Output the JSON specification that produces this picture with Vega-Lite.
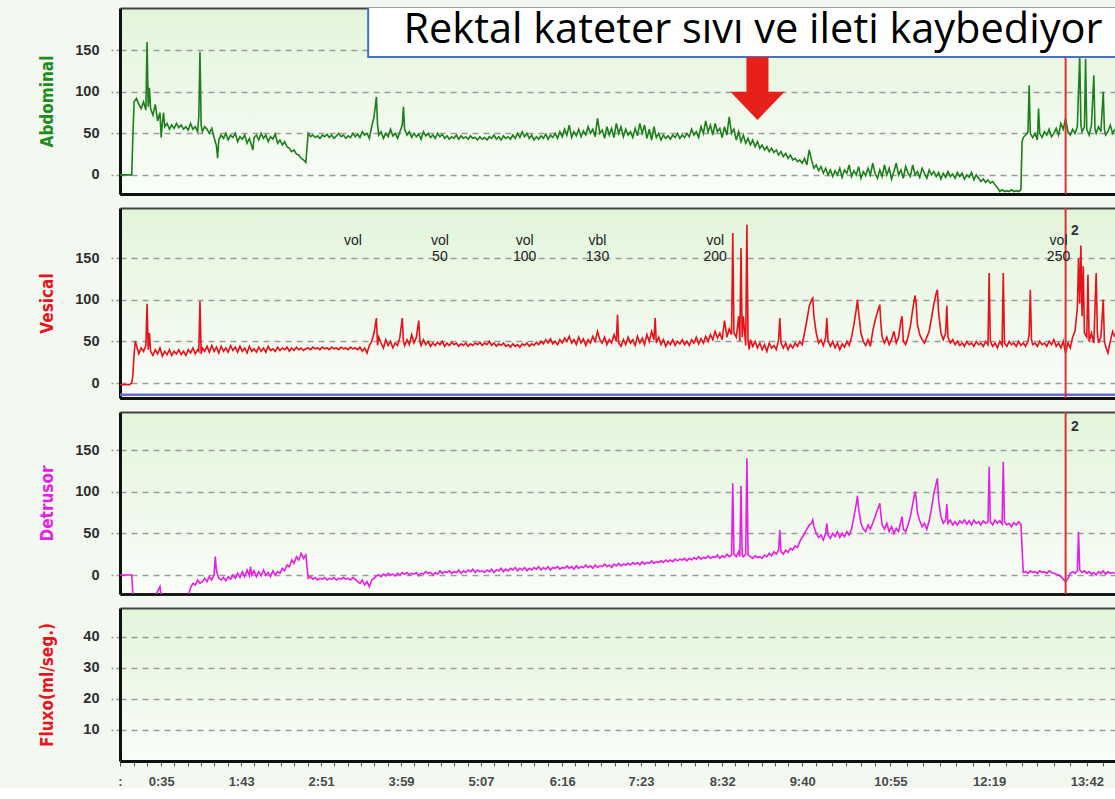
{
"$schema":"https://vega.github.io/schema/vega-lite/v6.json",
"padding":{"left":38,"top":8,"right":0,"bottom":0},
"background":"#f3f9f1",
"spacing":14,
"bounds":"flush",
"config":{
"view":{"stroke":null,"fill":{"gradient":"linear","x1":0,"y1":0,"x2":0,"y2":1,"stops":[{"offset":0,"color":"#e2f5da"},{"offset":1,"color":"#fafdf9"}]}},
"axisY":{"grid":true,"gridColor":"#9c9c9c","gridDash":[6,5],"gridWidth":1.3,"domainColor":"#111","domainWidth":3,"tickColor":"#9c9c9c","tickDash":[4,3],"tickSize":9,"tickWidth":1.3,"labelFont":"Liberation Sans","labelFontSize":14.5,"labelFontWeight":"bold","labelColor":"#2e2e2e","labelPadding":12,"minExtent":44,"maxExtent":44,"titleFont":"Liberation Sans Narrow, DejaVu Sans Condensed, Liberation Sans","titleFontSize":17,"titleFontWeight":"bold","titlePadding":20}
},
"datasets":{
"abd":[{"t":0,"v":0},{"t":8,"v":0},{"t":10,"v":0},{"t":11,"v":50},{"t":12,"v":88},{"t":14,"v":92},{"t":16,"v":85},{"t":18,"v":80},{"t":20,"v":88},{"t":22,"v":78},{"t":23,"v":160},{"t":24,"v":82},{"t":25,"v":105},{"t":26,"v":80},{"t":28,"v":72},{"t":30,"v":85},{"t":32,"v":65},{"t":34,"v":75},{"t":35,"v":45},{"t":36,"v":62},{"t":37,"v":75},{"t":38,"v":58},{"t":40,"v":62},{"t":42,"v":55},{"t":44,"v":60},{"t":46,"v":56},{"t":48,"v":62},{"t":50,"v":57},{"t":52,"v":60},{"t":54,"v":55},{"t":56,"v":58},{"t":58,"v":54},{"t":60,"v":62},{"t":62,"v":55},{"t":64,"v":58},{"t":66,"v":52},{"t":67,"v":70},{"t":68,"v":148},{"t":69,"v":60},{"t":70,"v":52},{"t":72,"v":58},{"t":74,"v":55},{"t":76,"v":50},{"t":78,"v":56},{"t":80,"v":45},{"t":82,"v":35},{"t":83,"v":20},{"t":84,"v":42},{"t":86,"v":48},{"t":88,"v":44},{"t":90,"v":50},{"t":92,"v":42},{"t":94,"v":48},{"t":96,"v":45},{"t":98,"v":50},{"t":100,"v":40},{"t":102,"v":46},{"t":104,"v":43},{"t":106,"v":48},{"t":108,"v":38},{"t":110,"v":44},{"t":112,"v":35},{"t":113,"v":30},{"t":114,"v":45},{"t":116,"v":48},{"t":118,"v":42},{"t":120,"v":50},{"t":122,"v":44},{"t":124,"v":48},{"t":126,"v":40},{"t":128,"v":46},{"t":130,"v":43},{"t":132,"v":49},{"t":134,"v":38},{"t":136,"v":42},{"t":138,"v":36},{"t":140,"v":40},{"t":142,"v":34},{"t":144,"v":32},{"t":146,"v":28},{"t":148,"v":30},{"t":150,"v":25},{"t":152,"v":24},{"t":154,"v":20},{"t":156,"v":18},{"t":158,"v":15},{"t":160,"v":50},{"t":162,"v":46},{"t":164,"v":48},{"t":166,"v":45},{"t":168,"v":47},{"t":170,"v":44},{"t":172,"v":48},{"t":174,"v":46},{"t":176,"v":49},{"t":178,"v":45},{"t":180,"v":48},{"t":182,"v":44},{"t":184,"v":47},{"t":186,"v":50},{"t":188,"v":46},{"t":190,"v":48},{"t":192,"v":44},{"t":194,"v":47},{"t":196,"v":45},{"t":198,"v":50},{"t":200,"v":46},{"t":202,"v":49},{"t":204,"v":45},{"t":206,"v":52},{"t":208,"v":48},{"t":210,"v":50},{"t":212,"v":44},{"t":214,"v":58},{"t":216,"v":70},{"t":218,"v":94},{"t":219,"v":60},{"t":220,"v":48},{"t":222,"v":52},{"t":224,"v":44},{"t":226,"v":50},{"t":228,"v":46},{"t":230,"v":55},{"t":232,"v":47},{"t":234,"v":50},{"t":236,"v":44},{"t":238,"v":52},{"t":240,"v":60},{"t":241,"v":82},{"t":242,"v":55},{"t":244,"v":48},{"t":246,"v":52},{"t":248,"v":45},{"t":250,"v":50},{"t":252,"v":46},{"t":254,"v":49},{"t":256,"v":43},{"t":258,"v":52},{"t":260,"v":47},{"t":262,"v":50},{"t":264,"v":45},{"t":266,"v":48},{"t":268,"v":44},{"t":270,"v":50},{"t":272,"v":46},{"t":274,"v":49},{"t":276,"v":44},{"t":278,"v":47},{"t":280,"v":43},{"t":282,"v":46},{"t":284,"v":44},{"t":286,"v":48},{"t":288,"v":43},{"t":290,"v":47},{"t":292,"v":44},{"t":294,"v":46},{"t":296,"v":43},{"t":298,"v":47},{"t":300,"v":44},{"t":302,"v":45},{"t":304,"v":42},{"t":306,"v":46},{"t":308,"v":43},{"t":310,"v":45},{"t":312,"v":42},{"t":314,"v":46},{"t":316,"v":44},{"t":318,"v":48},{"t":320,"v":43},{"t":322,"v":46},{"t":324,"v":42},{"t":326,"v":47},{"t":328,"v":44},{"t":330,"v":46},{"t":332,"v":43},{"t":334,"v":48},{"t":336,"v":44},{"t":338,"v":50},{"t":340,"v":45},{"t":342,"v":52},{"t":344,"v":46},{"t":346,"v":50},{"t":348,"v":44},{"t":350,"v":48},{"t":352,"v":42},{"t":354,"v":46},{"t":356,"v":43},{"t":358,"v":47},{"t":360,"v":44},{"t":362,"v":49},{"t":364,"v":43},{"t":366,"v":48},{"t":368,"v":45},{"t":370,"v":50},{"t":372,"v":44},{"t":374,"v":52},{"t":376,"v":46},{"t":378,"v":55},{"t":380,"v":48},{"t":382,"v":60},{"t":384,"v":45},{"t":386,"v":52},{"t":388,"v":47},{"t":390,"v":55},{"t":392,"v":46},{"t":394,"v":53},{"t":396,"v":48},{"t":398,"v":58},{"t":400,"v":50},{"t":402,"v":55},{"t":404,"v":46},{"t":406,"v":68},{"t":408,"v":50},{"t":410,"v":54},{"t":412,"v":44},{"t":414,"v":58},{"t":416,"v":48},{"t":418,"v":56},{"t":420,"v":45},{"t":422,"v":62},{"t":424,"v":50},{"t":426,"v":58},{"t":428,"v":46},{"t":430,"v":55},{"t":432,"v":48},{"t":434,"v":52},{"t":436,"v":45},{"t":438,"v":56},{"t":440,"v":47},{"t":442,"v":62},{"t":444,"v":50},{"t":446,"v":60},{"t":448,"v":44},{"t":450,"v":55},{"t":452,"v":42},{"t":454,"v":58},{"t":456,"v":45},{"t":458,"v":50},{"t":460,"v":42},{"t":462,"v":48},{"t":464,"v":44},{"t":466,"v":47},{"t":468,"v":43},{"t":470,"v":48},{"t":472,"v":45},{"t":474,"v":50},{"t":476,"v":44},{"t":478,"v":48},{"t":480,"v":45},{"t":482,"v":50},{"t":484,"v":46},{"t":486,"v":55},{"t":488,"v":48},{"t":490,"v":52},{"t":492,"v":45},{"t":494,"v":58},{"t":496,"v":50},{"t":498,"v":65},{"t":500,"v":52},{"t":502,"v":60},{"t":504,"v":48},{"t":506,"v":62},{"t":508,"v":52},{"t":510,"v":56},{"t":512,"v":45},{"t":514,"v":58},{"t":516,"v":48},{"t":518,"v":70},{"t":520,"v":50},{"t":522,"v":55},{"t":524,"v":42},{"t":526,"v":52},{"t":528,"v":40},{"t":530,"v":48},{"t":532,"v":38},{"t":534,"v":44},{"t":536,"v":36},{"t":538,"v":42},{"t":540,"v":34},{"t":542,"v":40},{"t":544,"v":32},{"t":546,"v":36},{"t":548,"v":30},{"t":550,"v":34},{"t":552,"v":28},{"t":554,"v":32},{"t":556,"v":27},{"t":558,"v":30},{"t":560,"v":24},{"t":562,"v":28},{"t":564,"v":22},{"t":566,"v":26},{"t":568,"v":20},{"t":570,"v":24},{"t":572,"v":18},{"t":574,"v":20},{"t":576,"v":16},{"t":578,"v":18},{"t":580,"v":14},{"t":582,"v":20},{"t":584,"v":12},{"t":586,"v":30},{"t":588,"v":18},{"t":590,"v":8},{"t":592,"v":12},{"t":594,"v":5},{"t":596,"v":10},{"t":598,"v":2},{"t":600,"v":8},{"t":602,"v":0},{"t":604,"v":6},{"t":606,"v":-2},{"t":608,"v":5},{"t":610,"v":0},{"t":612,"v":8},{"t":614,"v":-3},{"t":616,"v":6},{"t":618,"v":2},{"t":620,"v":12},{"t":622,"v":-2},{"t":624,"v":5},{"t":626,"v":0},{"t":628,"v":10},{"t":630,"v":-4},{"t":632,"v":4},{"t":634,"v":-1},{"t":636,"v":8},{"t":638,"v":0},{"t":640,"v":14},{"t":642,"v":2},{"t":644,"v":-4},{"t":646,"v":6},{"t":648,"v":-2},{"t":650,"v":12},{"t":652,"v":0},{"t":654,"v":8},{"t":656,"v":-5},{"t":658,"v":4},{"t":660,"v":14},{"t":662,"v":0},{"t":664,"v":6},{"t":666,"v":-4},{"t":668,"v":10},{"t":670,"v":2},{"t":672,"v":-2},{"t":674,"v":12},{"t":676,"v":0},{"t":678,"v":4},{"t":680,"v":-3},{"t":682,"v":8},{"t":684,"v":2},{"t":686,"v":-4},{"t":688,"v":6},{"t":690,"v":0},{"t":692,"v":4},{"t":694,"v":-2},{"t":696,"v":3},{"t":698,"v":-5},{"t":700,"v":2},{"t":702,"v":-3},{"t":704,"v":4},{"t":706,"v":-2},{"t":708,"v":1},{"t":710,"v":-4},{"t":712,"v":3},{"t":714,"v":-2},{"t":716,"v":2},{"t":718,"v":-5},{"t":720,"v":0},{"t":722,"v":-3},{"t":724,"v":3},{"t":726,"v":-6},{"t":728,"v":0},{"t":730,"v":-4},{"t":732,"v":-8},{"t":734,"v":-5},{"t":736,"v":-9},{"t":738,"v":-6},{"t":740,"v":-10},{"t":742,"v":-8},{"t":744,"v":-12},{"t":746,"v":-15},{"t":748,"v":-20},{"t":750,"v":-18},{"t":752,"v":-20},{"t":754,"v":-19},{"t":756,"v":-20},{"t":758,"v":-18},{"t":760,"v":-20},{"t":762,"v":-19},{"t":764,"v":-20},{"t":766,"v":-18},{"t":767,"v":40},{"t":768,"v":45},{"t":770,"v":48},{"t":772,"v":52},{"t":773,"v":108},{"t":774,"v":50},{"t":776,"v":45},{"t":778,"v":50},{"t":780,"v":42},{"t":781,"v":80},{"t":782,"v":50},{"t":784,"v":45},{"t":786,"v":52},{"t":788,"v":48},{"t":790,"v":55},{"t":792,"v":46},{"t":794,"v":50},{"t":796,"v":56},{"t":798,"v":48},{"t":800,"v":62},{"t":802,"v":55},{"t":804,"v":68},{"t":806,"v":52},{"t":808,"v":48},{"t":810,"v":55},{"t":812,"v":50},{"t":814,"v":58},{"t":816,"v":145},{"t":817,"v":60},{"t":818,"v":52},{"t":820,"v":58},{"t":821,"v":140},{"t":822,"v":55},{"t":824,"v":48},{"t":826,"v":60},{"t":828,"v":120},{"t":829,"v":55},{"t":830,"v":50},{"t":832,"v":58},{"t":834,"v":52},{"t":836,"v":100},{"t":837,"v":55},{"t":838,"v":48},{"t":840,"v":52},{"t":842,"v":60},{"t":844,"v":50},{"t":846,"v":55}],
"ves":[{"t":0,"v":-2},{"t":8,"v":-2},{"t":10,"v":0},{"t":11,"v":10},{"t":12,"v":35},{"t":13,"v":50},{"t":14,"v":45},{"t":16,"v":35},{"t":18,"v":42},{"t":20,"v":38},{"t":22,"v":45},{"t":23,"v":95},{"t":24,"v":40},{"t":25,"v":60},{"t":26,"v":38},{"t":28,"v":33},{"t":30,"v":40},{"t":32,"v":35},{"t":34,"v":42},{"t":36,"v":32},{"t":38,"v":38},{"t":40,"v":34},{"t":42,"v":40},{"t":44,"v":33},{"t":46,"v":38},{"t":48,"v":35},{"t":50,"v":40},{"t":52,"v":34},{"t":54,"v":38},{"t":56,"v":33},{"t":58,"v":40},{"t":60,"v":36},{"t":62,"v":42},{"t":64,"v":35},{"t":66,"v":40},{"t":67,"v":38},{"t":68,"v":98},{"t":69,"v":35},{"t":70,"v":42},{"t":72,"v":38},{"t":74,"v":44},{"t":76,"v":37},{"t":78,"v":45},{"t":80,"v":38},{"t":82,"v":43},{"t":84,"v":36},{"t":86,"v":44},{"t":88,"v":38},{"t":90,"v":42},{"t":92,"v":37},{"t":94,"v":45},{"t":96,"v":39},{"t":98,"v":43},{"t":100,"v":37},{"t":102,"v":44},{"t":104,"v":38},{"t":106,"v":42},{"t":108,"v":36},{"t":110,"v":44},{"t":112,"v":38},{"t":114,"v":41},{"t":116,"v":37},{"t":118,"v":43},{"t":120,"v":38},{"t":122,"v":42},{"t":124,"v":37},{"t":126,"v":44},{"t":128,"v":39},{"t":130,"v":41},{"t":132,"v":38},{"t":134,"v":43},{"t":136,"v":39},{"t":138,"v":42},{"t":140,"v":40},{"t":142,"v":43},{"t":144,"v":38},{"t":146,"v":42},{"t":148,"v":39},{"t":150,"v":43},{"t":152,"v":40},{"t":154,"v":42},{"t":156,"v":39},{"t":158,"v":41},{"t":160,"v":42},{"t":162,"v":40},{"t":164,"v":43},{"t":166,"v":41},{"t":168,"v":42},{"t":170,"v":40},{"t":172,"v":43},{"t":174,"v":41},{"t":176,"v":42},{"t":178,"v":40},{"t":180,"v":43},{"t":182,"v":41},{"t":184,"v":42},{"t":186,"v":40},{"t":188,"v":43},{"t":190,"v":41},{"t":192,"v":42},{"t":194,"v":40},{"t":196,"v":43},{"t":198,"v":41},{"t":200,"v":42},{"t":202,"v":40},{"t":204,"v":43},{"t":206,"v":38},{"t":208,"v":42},{"t":210,"v":36},{"t":212,"v":45},{"t":214,"v":50},{"t":216,"v":60},{"t":218,"v":78},{"t":219,"v":45},{"t":220,"v":55},{"t":222,"v":48},{"t":224,"v":42},{"t":226,"v":52},{"t":228,"v":45},{"t":230,"v":50},{"t":232,"v":42},{"t":234,"v":48},{"t":236,"v":45},{"t":238,"v":55},{"t":240,"v":78},{"t":241,"v":50},{"t":242,"v":45},{"t":244,"v":52},{"t":246,"v":46},{"t":248,"v":58},{"t":250,"v":48},{"t":252,"v":55},{"t":254,"v":75},{"t":255,"v":50},{"t":256,"v":45},{"t":258,"v":52},{"t":260,"v":46},{"t":262,"v":50},{"t":264,"v":44},{"t":266,"v":48},{"t":268,"v":45},{"t":270,"v":49},{"t":272,"v":46},{"t":274,"v":50},{"t":276,"v":44},{"t":278,"v":48},{"t":280,"v":45},{"t":282,"v":49},{"t":284,"v":46},{"t":286,"v":48},{"t":288,"v":44},{"t":290,"v":47},{"t":292,"v":45},{"t":294,"v":48},{"t":296,"v":44},{"t":298,"v":47},{"t":300,"v":45},{"t":302,"v":48},{"t":304,"v":46},{"t":306,"v":49},{"t":308,"v":45},{"t":310,"v":48},{"t":312,"v":46},{"t":314,"v":50},{"t":316,"v":45},{"t":318,"v":48},{"t":320,"v":44},{"t":322,"v":47},{"t":324,"v":45},{"t":326,"v":48},{"t":328,"v":44},{"t":330,"v":46},{"t":332,"v":43},{"t":334,"v":47},{"t":336,"v":44},{"t":338,"v":46},{"t":340,"v":43},{"t":342,"v":47},{"t":344,"v":45},{"t":346,"v":48},{"t":348,"v":44},{"t":350,"v":47},{"t":352,"v":45},{"t":354,"v":49},{"t":356,"v":46},{"t":358,"v":50},{"t":360,"v":47},{"t":362,"v":52},{"t":364,"v":48},{"t":366,"v":53},{"t":368,"v":47},{"t":370,"v":50},{"t":372,"v":46},{"t":374,"v":52},{"t":376,"v":48},{"t":378,"v":54},{"t":380,"v":50},{"t":382,"v":56},{"t":384,"v":48},{"t":386,"v":52},{"t":388,"v":46},{"t":390,"v":55},{"t":392,"v":48},{"t":394,"v":53},{"t":396,"v":45},{"t":398,"v":52},{"t":400,"v":48},{"t":402,"v":56},{"t":404,"v":50},{"t":406,"v":62},{"t":408,"v":52},{"t":410,"v":48},{"t":412,"v":55},{"t":414,"v":46},{"t":416,"v":52},{"t":418,"v":48},{"t":420,"v":58},{"t":422,"v":50},{"t":423,"v":82},{"t":424,"v":48},{"t":426,"v":44},{"t":428,"v":52},{"t":430,"v":46},{"t":432,"v":55},{"t":434,"v":48},{"t":436,"v":52},{"t":438,"v":45},{"t":440,"v":56},{"t":442,"v":48},{"t":444,"v":54},{"t":446,"v":46},{"t":448,"v":58},{"t":450,"v":50},{"t":452,"v":62},{"t":454,"v":52},{"t":455,"v":78},{"t":456,"v":48},{"t":458,"v":55},{"t":460,"v":46},{"t":462,"v":52},{"t":464,"v":44},{"t":466,"v":50},{"t":468,"v":46},{"t":470,"v":52},{"t":472,"v":45},{"t":474,"v":50},{"t":476,"v":47},{"t":478,"v":52},{"t":480,"v":46},{"t":482,"v":50},{"t":484,"v":45},{"t":486,"v":52},{"t":488,"v":48},{"t":490,"v":55},{"t":492,"v":47},{"t":494,"v":53},{"t":496,"v":48},{"t":498,"v":56},{"t":500,"v":50},{"t":502,"v":58},{"t":504,"v":52},{"t":506,"v":62},{"t":508,"v":54},{"t":510,"v":60},{"t":512,"v":52},{"t":514,"v":75},{"t":516,"v":55},{"t":518,"v":65},{"t":520,"v":58},{"t":521,"v":180},{"t":522,"v":60},{"t":524,"v":55},{"t":526,"v":80},{"t":527,"v":50},{"t":528,"v":162},{"t":529,"v":55},{"t":530,"v":80},{"t":532,"v":45},{"t":533,"v":190},{"t":534,"v":50},{"t":535,"v":40},{"t":536,"v":52},{"t":538,"v":44},{"t":540,"v":50},{"t":542,"v":42},{"t":544,"v":48},{"t":546,"v":40},{"t":548,"v":46},{"t":550,"v":38},{"t":552,"v":48},{"t":554,"v":42},{"t":556,"v":45},{"t":558,"v":40},{"t":560,"v":52},{"t":561,"v":78},{"t":562,"v":48},{"t":564,"v":42},{"t":566,"v":48},{"t":568,"v":40},{"t":570,"v":46},{"t":572,"v":42},{"t":574,"v":48},{"t":576,"v":44},{"t":578,"v":50},{"t":580,"v":46},{"t":582,"v":60},{"t":584,"v":75},{"t":586,"v":92},{"t":588,"v":100},{"t":589,"v":102},{"t":590,"v":80},{"t":592,"v":60},{"t":594,"v":48},{"t":596,"v":52},{"t":598,"v":45},{"t":600,"v":55},{"t":601,"v":78},{"t":602,"v":50},{"t":604,"v":44},{"t":606,"v":50},{"t":608,"v":42},{"t":610,"v":48},{"t":612,"v":40},{"t":614,"v":47},{"t":616,"v":43},{"t":618,"v":50},{"t":620,"v":45},{"t":622,"v":55},{"t":624,"v":70},{"t":626,"v":88},{"t":627,"v":100},{"t":628,"v":85},{"t":630,"v":60},{"t":632,"v":50},{"t":634,"v":45},{"t":636,"v":52},{"t":638,"v":44},{"t":640,"v":62},{"t":642,"v":75},{"t":644,"v":85},{"t":646,"v":94},{"t":647,"v":70},{"t":648,"v":55},{"t":650,"v":48},{"t":652,"v":55},{"t":654,"v":46},{"t":656,"v":52},{"t":658,"v":62},{"t":660,"v":48},{"t":662,"v":55},{"t":664,"v":75},{"t":665,"v":80},{"t":666,"v":50},{"t":668,"v":46},{"t":670,"v":55},{"t":672,"v":68},{"t":674,"v":88},{"t":676,"v":105},{"t":677,"v":95},{"t":678,"v":70},{"t":680,"v":58},{"t":682,"v":52},{"t":684,"v":48},{"t":686,"v":55},{"t":688,"v":62},{"t":690,"v":78},{"t":692,"v":95},{"t":694,"v":108},{"t":695,"v":112},{"t":696,"v":85},{"t":698,"v":60},{"t":700,"v":52},{"t":702,"v":60},{"t":703,"v":93},{"t":704,"v":55},{"t":706,"v":48},{"t":708,"v":52},{"t":710,"v":46},{"t":712,"v":50},{"t":714,"v":45},{"t":716,"v":48},{"t":718,"v":44},{"t":720,"v":50},{"t":722,"v":46},{"t":724,"v":48},{"t":726,"v":44},{"t":728,"v":50},{"t":730,"v":46},{"t":732,"v":48},{"t":734,"v":44},{"t":736,"v":50},{"t":738,"v":46},{"t":739,"v":132},{"t":740,"v":50},{"t":742,"v":44},{"t":744,"v":48},{"t":746,"v":42},{"t":748,"v":50},{"t":750,"v":45},{"t":751,"v":132},{"t":752,"v":48},{"t":754,"v":44},{"t":756,"v":50},{"t":758,"v":46},{"t":760,"v":48},{"t":762,"v":44},{"t":764,"v":50},{"t":766,"v":45},{"t":768,"v":48},{"t":770,"v":44},{"t":772,"v":50},{"t":773,"v":58},{"t":774,"v":112},{"t":775,"v":52},{"t":776,"v":46},{"t":778,"v":48},{"t":780,"v":44},{"t":782,"v":50},{"t":784,"v":46},{"t":786,"v":48},{"t":788,"v":44},{"t":790,"v":50},{"t":792,"v":46},{"t":794,"v":52},{"t":796,"v":44},{"t":798,"v":48},{"t":800,"v":42},{"t":802,"v":50},{"t":804,"v":36},{"t":806,"v":48},{"t":808,"v":42},{"t":810,"v":55},{"t":812,"v":62},{"t":814,"v":90},{"t":815,"v":150},{"t":816,"v":95},{"t":817,"v":165},{"t":818,"v":80},{"t":819,"v":140},{"t":820,"v":60},{"t":822,"v":55},{"t":823,"v":130},{"t":824,"v":50},{"t":826,"v":60},{"t":828,"v":48},{"t":830,"v":132},{"t":831,"v":60},{"t":832,"v":48},{"t":834,"v":55},{"t":836,"v":100},{"t":837,"v":50},{"t":838,"v":44},{"t":840,"v":36},{"t":842,"v":50},{"t":844,"v":62},{"t":846,"v":55}],
"det":[{"t":0,"v":0},{"t":10,"v":0},{"t":11,"v":-25},{"t":20,"v":-25},{"t":30,"v":-25},{"t":34,"v":-14},{"t":35,"v":-25},{"t":50,"v":-25},{"t":58,"v":-25},{"t":60,"v":-15},{"t":62,"v":-10},{"t":64,"v":-12},{"t":66,"v":-6},{"t":68,"v":-10},{"t":70,"v":-8},{"t":72,"v":-4},{"t":74,"v":-8},{"t":76,"v":-2},{"t":78,"v":-6},{"t":80,"v":0},{"t":81,"v":22},{"t":82,"v":5},{"t":84,"v":-4},{"t":86,"v":-6},{"t":88,"v":-3},{"t":90,"v":-7},{"t":92,"v":-2},{"t":94,"v":-5},{"t":96,"v":0},{"t":98,"v":-4},{"t":100,"v":2},{"t":102,"v":-3},{"t":104,"v":4},{"t":106,"v":-2},{"t":108,"v":6},{"t":110,"v":-1},{"t":111,"v":10},{"t":112,"v":0},{"t":114,"v":5},{"t":116,"v":-2},{"t":118,"v":4},{"t":120,"v":-1},{"t":122,"v":6},{"t":124,"v":0},{"t":126,"v":3},{"t":128,"v":-2},{"t":130,"v":5},{"t":132,"v":0},{"t":134,"v":4},{"t":136,"v":2},{"t":138,"v":8},{"t":140,"v":5},{"t":142,"v":12},{"t":144,"v":10},{"t":146,"v":18},{"t":148,"v":14},{"t":150,"v":22},{"t":152,"v":18},{"t":154,"v":26},{"t":156,"v":20},{"t":158,"v":24},{"t":160,"v":-4},{"t":162,"v":-2},{"t":164,"v":-5},{"t":166,"v":-3},{"t":168,"v":-6},{"t":170,"v":-4},{"t":172,"v":-5},{"t":174,"v":-3},{"t":176,"v":-6},{"t":178,"v":-4},{"t":180,"v":-5},{"t":182,"v":-3},{"t":184,"v":-6},{"t":186,"v":-4},{"t":188,"v":-5},{"t":190,"v":-3},{"t":192,"v":-5},{"t":194,"v":-4},{"t":196,"v":-6},{"t":198,"v":-3},{"t":200,"v":-5},{"t":202,"v":-8},{"t":204,"v":-10},{"t":206,"v":-6},{"t":208,"v":-12},{"t":210,"v":-8},{"t":212,"v":-14},{"t":214,"v":-6},{"t":216,"v":-4},{"t":218,"v":-1},{"t":220,"v":0},{"t":222,"v":-2},{"t":224,"v":1},{"t":226,"v":-1},{"t":228,"v":2},{"t":230,"v":0},{"t":232,"v":1},{"t":234,"v":-1},{"t":236,"v":2},{"t":238,"v":0},{"t":240,"v":3},{"t":242,"v":1},{"t":244,"v":3},{"t":246,"v":0},{"t":248,"v":2},{"t":250,"v":1},{"t":252,"v":3},{"t":254,"v":-1},{"t":256,"v":2},{"t":258,"v":1},{"t":260,"v":4},{"t":262,"v":2},{"t":264,"v":3},{"t":266,"v":0},{"t":268,"v":3},{"t":270,"v":1},{"t":272,"v":5},{"t":274,"v":2},{"t":276,"v":4},{"t":278,"v":3},{"t":280,"v":5},{"t":282,"v":2},{"t":284,"v":4},{"t":286,"v":3},{"t":288,"v":6},{"t":290,"v":2},{"t":292,"v":5},{"t":294,"v":3},{"t":296,"v":6},{"t":298,"v":4},{"t":300,"v":7},{"t":302,"v":3},{"t":304,"v":6},{"t":306,"v":4},{"t":308,"v":5},{"t":310,"v":3},{"t":312,"v":6},{"t":314,"v":4},{"t":316,"v":7},{"t":318,"v":3},{"t":320,"v":6},{"t":322,"v":5},{"t":324,"v":8},{"t":326,"v":4},{"t":328,"v":7},{"t":330,"v":5},{"t":332,"v":8},{"t":334,"v":6},{"t":336,"v":9},{"t":338,"v":5},{"t":340,"v":8},{"t":342,"v":6},{"t":344,"v":9},{"t":346,"v":5},{"t":348,"v":8},{"t":350,"v":6},{"t":352,"v":9},{"t":354,"v":7},{"t":356,"v":10},{"t":358,"v":6},{"t":360,"v":9},{"t":362,"v":7},{"t":364,"v":10},{"t":366,"v":6},{"t":368,"v":9},{"t":370,"v":8},{"t":372,"v":10},{"t":374,"v":7},{"t":376,"v":9},{"t":378,"v":8},{"t":380,"v":11},{"t":382,"v":8},{"t":384,"v":10},{"t":386,"v":7},{"t":388,"v":11},{"t":390,"v":8},{"t":392,"v":10},{"t":394,"v":9},{"t":396,"v":12},{"t":398,"v":9},{"t":400,"v":11},{"t":402,"v":8},{"t":404,"v":12},{"t":406,"v":9},{"t":408,"v":11},{"t":410,"v":10},{"t":412,"v":13},{"t":414,"v":10},{"t":416,"v":12},{"t":418,"v":9},{"t":420,"v":13},{"t":422,"v":11},{"t":424,"v":14},{"t":426,"v":11},{"t":428,"v":13},{"t":430,"v":12},{"t":432,"v":14},{"t":434,"v":12},{"t":436,"v":15},{"t":438,"v":13},{"t":440,"v":15},{"t":442,"v":12},{"t":444,"v":16},{"t":446,"v":13},{"t":448,"v":15},{"t":450,"v":14},{"t":452,"v":17},{"t":454,"v":14},{"t":456,"v":16},{"t":458,"v":15},{"t":460,"v":17},{"t":462,"v":15},{"t":464,"v":18},{"t":466,"v":16},{"t":468,"v":18},{"t":470,"v":16},{"t":472,"v":19},{"t":474,"v":17},{"t":476,"v":19},{"t":478,"v":18},{"t":480,"v":20},{"t":482,"v":17},{"t":484,"v":20},{"t":486,"v":18},{"t":488,"v":21},{"t":490,"v":19},{"t":492,"v":22},{"t":494,"v":19},{"t":496,"v":21},{"t":498,"v":20},{"t":500,"v":23},{"t":502,"v":20},{"t":504,"v":22},{"t":506,"v":21},{"t":508,"v":24},{"t":510,"v":20},{"t":512,"v":23},{"t":514,"v":21},{"t":516,"v":25},{"t":518,"v":22},{"t":520,"v":24},{"t":521,"v":110},{"t":522,"v":25},{"t":524,"v":22},{"t":526,"v":28},{"t":527,"v":22},{"t":528,"v":107},{"t":529,"v":24},{"t":530,"v":22},{"t":532,"v":25},{"t":533,"v":140},{"t":534,"v":24},{"t":536,"v":22},{"t":538,"v":20},{"t":540,"v":23},{"t":542,"v":21},{"t":544,"v":22},{"t":546,"v":20},{"t":548,"v":24},{"t":550,"v":22},{"t":552,"v":26},{"t":554,"v":23},{"t":556,"v":28},{"t":558,"v":25},{"t":560,"v":30},{"t":561,"v":54},{"t":562,"v":28},{"t":564,"v":25},{"t":566,"v":30},{"t":568,"v":27},{"t":570,"v":32},{"t":572,"v":30},{"t":574,"v":35},{"t":576,"v":33},{"t":578,"v":40},{"t":580,"v":45},{"t":582,"v":50},{"t":584,"v":55},{"t":586,"v":60},{"t":588,"v":62},{"t":589,"v":66},{"t":590,"v":58},{"t":592,"v":50},{"t":594,"v":45},{"t":596,"v":48},{"t":598,"v":42},{"t":600,"v":50},{"t":601,"v":62},{"t":602,"v":48},{"t":604,"v":44},{"t":606,"v":50},{"t":608,"v":46},{"t":610,"v":52},{"t":612,"v":45},{"t":614,"v":50},{"t":616,"v":46},{"t":618,"v":52},{"t":620,"v":48},{"t":622,"v":55},{"t":624,"v":70},{"t":626,"v":85},{"t":627,"v":95},{"t":628,"v":80},{"t":630,"v":62},{"t":632,"v":55},{"t":634,"v":52},{"t":636,"v":60},{"t":638,"v":55},{"t":640,"v":62},{"t":642,"v":70},{"t":644,"v":78},{"t":646,"v":86},{"t":647,"v":72},{"t":648,"v":60},{"t":650,"v":55},{"t":652,"v":62},{"t":654,"v":52},{"t":656,"v":58},{"t":658,"v":50},{"t":660,"v":56},{"t":662,"v":52},{"t":664,"v":65},{"t":665,"v":70},{"t":666,"v":55},{"t":668,"v":52},{"t":670,"v":60},{"t":672,"v":70},{"t":674,"v":85},{"t":676,"v":100},{"t":677,"v":92},{"t":678,"v":75},{"t":680,"v":65},{"t":682,"v":58},{"t":684,"v":62},{"t":686,"v":55},{"t":688,"v":65},{"t":690,"v":80},{"t":692,"v":98},{"t":694,"v":110},{"t":695,"v":116},{"t":696,"v":90},{"t":698,"v":70},{"t":700,"v":62},{"t":702,"v":66},{"t":703,"v":85},{"t":704,"v":62},{"t":706,"v":66},{"t":708,"v":60},{"t":710,"v":64},{"t":712,"v":60},{"t":714,"v":65},{"t":716,"v":62},{"t":718,"v":66},{"t":720,"v":61},{"t":722,"v":65},{"t":724,"v":60},{"t":726,"v":66},{"t":728,"v":62},{"t":730,"v":64},{"t":732,"v":60},{"t":734,"v":65},{"t":736,"v":62},{"t":738,"v":64},{"t":739,"v":130},{"t":740,"v":64},{"t":742,"v":60},{"t":744,"v":66},{"t":746,"v":62},{"t":748,"v":65},{"t":750,"v":61},{"t":751,"v":136},{"t":752,"v":64},{"t":754,"v":60},{"t":756,"v":62},{"t":758,"v":58},{"t":760,"v":63},{"t":762,"v":60},{"t":764,"v":64},{"t":766,"v":61},{"t":768,"v":3},{"t":770,"v":4},{"t":772,"v":2},{"t":774,"v":5},{"t":776,"v":3},{"t":778,"v":4},{"t":780,"v":2},{"t":782,"v":5},{"t":784,"v":3},{"t":786,"v":4},{"t":788,"v":2},{"t":790,"v":5},{"t":792,"v":3},{"t":794,"v":2},{"t":796,"v":1},{"t":798,"v":0},{"t":800,"v":-2},{"t":802,"v":-5},{"t":804,"v":-8},{"t":806,"v":-4},{"t":808,"v":2},{"t":810,"v":4},{"t":812,"v":2},{"t":814,"v":5},{"t":815,"v":52},{"t":816,"v":6},{"t":818,"v":3},{"t":820,"v":5},{"t":822,"v":2},{"t":824,"v":4},{"t":826,"v":1},{"t":828,"v":3},{"t":830,"v":0},{"t":832,"v":4},{"t":834,"v":2},{"t":836,"v":5},{"t":838,"v":1},{"t":840,"v":4},{"t":842,"v":2},{"t":844,"v":3},{"t":846,"v":2}],
"flux":[{"t":0,"v":0},{"t":846,"v":0}],
"blue":[{"t":0,"v":-14},{"t":846,"v":-14}],
"cursor":[{"t":804,"v":-40,"v2":240}],
"box":[{"t":211,"t2":860,"v":142,"v2":215}],
"note":[{"t":241,"v":159,"label":"Rektal kateter sıvı ve ileti kaybediyor"}],
"arrow":[{"t":542,"v":104}],
"vlabels":[{"t":198,"v":179,"label":"vol"},{"t":272,"v":179,"label":"vol\n50"},{"t":344,"v":179,"label":"vol\n100"},{"t":406,"v":179,"label":"vbl\n130"},{"t":506,"v":179,"label":"vol\n200"},{"t":798,"v":179,"label":"vol\n250"}],
"mark2a":[{"t":812,"v":182,"label":"2"}],
"mark2b":[{"t":812,"v":178,"label":"2"}]
},
"vconcat":[
{"width":995,"height":186,
"encoding":{"x":{"field":"t","type":"quantitative","scale":{"domain":[0,846],"nice":false,"zero":false},"axis":{"orient":"bottom","labels":false,"ticks":false,"grid":false,"title":null,"domainColor":"#111","domainWidth":2.5}},
"y":{"field":"v","type":"quantitative","scale":{"domain":[-23,201],"nice":false,"zero":false},"axis":{"values":[0,50,100,150],"title":"Abdominal","titleColor":"#1c8c1c"}}},
"layer":[
{"data":{"name":"abd"},"mark":{"type":"line","color":"#1c7f1c","strokeWidth":1.6,"clip":true}},
{"data":{"name":"cursor"},"mark":{"type":"rule","color":"#e03030","strokeWidth":2,"clip":true},
"encoding":{"x":{"field":"t","type":"quantitative","axis":{"orient":"top","labels":false,"ticks":false,"grid":false,"title":null,"domainColor":"#444","domainWidth":2}},"y2":{"field":"v2"}}},
{"data":{"name":"box"},"mark":{"type":"rect","fill":"#ffffff","stroke":"#4472c4","strokeWidth":2,"clip":true},
"encoding":{"x2":{"field":"t2"},"y2":{"field":"v2"}}},
{"data":{"name":"note"},"mark":{"type":"text","font":"Open Sans","fontSize":41.5,"align":"left","baseline":"alphabetic","color":"#000000"},
"encoding":{"text":{"field":"label"}}},
{"data":{"name":"arrow"},"mark":{"type":"point","shape":"M-0.35,-1L0.35,-1L0.35,0.1L0.86,0.1L0,1L-0.86,0.1L-0.35,0.1Z","size":3969,"filled":true,"color":"#e8201c","opacity":1}}
]},
{"width":995,"height":190,
"encoding":{"x":{"field":"t","type":"quantitative","scale":{"domain":[0,846],"nice":false,"zero":false},"axis":{"orient":"bottom","labels":false,"ticks":false,"grid":false,"title":null,"domainColor":"#111","domainWidth":2.5}},
"y":{"field":"v","type":"quantitative","scale":{"domain":[-18,210],"nice":false,"zero":false},"axis":{"values":[0,50,100,150],"title":"Vesical","titleColor":"#e8141e"}}},
"layer":[
{"data":{"name":"blue"},"mark":{"type":"line","color":"#6868d8","strokeWidth":2.5,"clip":true}},
{"data":{"name":"ves"},"mark":{"type":"line","color":"#e8101a","strokeWidth":1.6,"clip":true}},
{"data":{"name":"cursor"},"mark":{"type":"rule","color":"#e03030","strokeWidth":2,"clip":true},
"encoding":{"x":{"field":"t","type":"quantitative","axis":{"orient":"top","labels":false,"ticks":false,"grid":false,"title":null,"domainColor":"#444","domainWidth":2}},"y2":{"field":"v2"}}},
{"data":{"name":"vlabels"},"mark":{"type":"text","font":"Liberation Sans","fontSize":14,"lineHeight":16,"lineBreak":"\n","align":"center","baseline":"top","color":"#222222"},
"encoding":{"text":{"field":"label"}}},
{"data":{"name":"mark2a"},"mark":{"type":"text","font":"Liberation Sans","fontSize":14,"fontWeight":"bold","align":"center","baseline":"middle","color":"#333333"},
"encoding":{"text":{"field":"label"}}}
]},
{"width":995,"height":182,
"encoding":{"x":{"field":"t","type":"quantitative","scale":{"domain":[0,846],"nice":false,"zero":false},"axis":{"orient":"bottom","labels":false,"ticks":false,"grid":false,"title":null,"domainColor":"#111","domainWidth":2.5}},
"y":{"field":"v","type":"quantitative","scale":{"domain":[-22.8,195.6],"nice":false,"zero":false},"axis":{"values":[0,50,100,150],"title":"Detrusor","titleColor":"#e81ee8"}}},
"layer":[
{"data":{"name":"det"},"mark":{"type":"line","color":"#e61ee6","strokeWidth":1.6,"clip":true}},
{"data":{"name":"cursor"},"mark":{"type":"rule","color":"#e03030","strokeWidth":2,"clip":true},
"encoding":{"x":{"field":"t","type":"quantitative","axis":{"orient":"top","labels":false,"ticks":false,"grid":false,"title":null,"domainColor":"#444","domainWidth":2}},"y2":{"field":"v2"}}},
{"data":{"name":"mark2b"},"mark":{"type":"text","font":"Liberation Sans","fontSize":14,"fontWeight":"bold","align":"center","baseline":"middle","color":"#333333"},
"encoding":{"text":{"field":"label"}}}
]},
{"width":995,"height":153,
"encoding":{"x":{"field":"t","type":"quantitative","scale":{"domain":[0,846],"nice":false,"zero":false},"axis":{"orient":"bottom","values":[0,12,23,35,46,58,69,80,92,103,114,126,137,148,160,171,182,194,205,216,228,239,250,262,273,284,296,307,318,330,341,352,364,376,387,398,409,421,432,443,455,466,477,489,500,512,523,534,546,557,568,580,592,605,617,630,642,655,669,683,697,711,725,739,753,767,780,794,808,822,836],"labelExpr":"datum.value == 0 ? ':' : (indexof([35,103,171,239,307,376,443,512,580,655,739,822], datum.value) >= 0 ? floor(datum.value/60) + ':' + (datum.value % 60 < 10 ? '0' : '') + (datum.value % 60) : '')","labelFlush":false,"labelOverlap":false,"title":null,"grid":false,"domainColor":"#111","domainWidth":3,"tickColor":"#555","tickSize":5,"tickWidth":1,"labelPadding":9,"labelFont":"Liberation Sans","labelFontSize":13,"labelFontWeight":"bold","labelColor":"#4a4a4a","zindex":1}},
"y":{"field":"v","type":"quantitative","scale":{"domain":[0,49.35],"nice":false,"zero":false},"axis":{"values":[10,20,30,40],"title":"Fluxo(ml/seg.)","titleColor":"#e8141e"}}},
"layer":[
{"data":{"name":"flux"},"mark":{"type":"line","color":"#e8141e","strokeWidth":1.2,"clip":true}},
{"data":{"name":"flux"},"mark":{"type":"line","color":"#e8141e","strokeWidth":1.2,"clip":true},
"encoding":{"x":{"field":"t","type":"quantitative","axis":{"orient":"top","labels":false,"ticks":false,"grid":false,"title":null,"domainColor":"#444","domainWidth":2}}}}
]}
]
}
